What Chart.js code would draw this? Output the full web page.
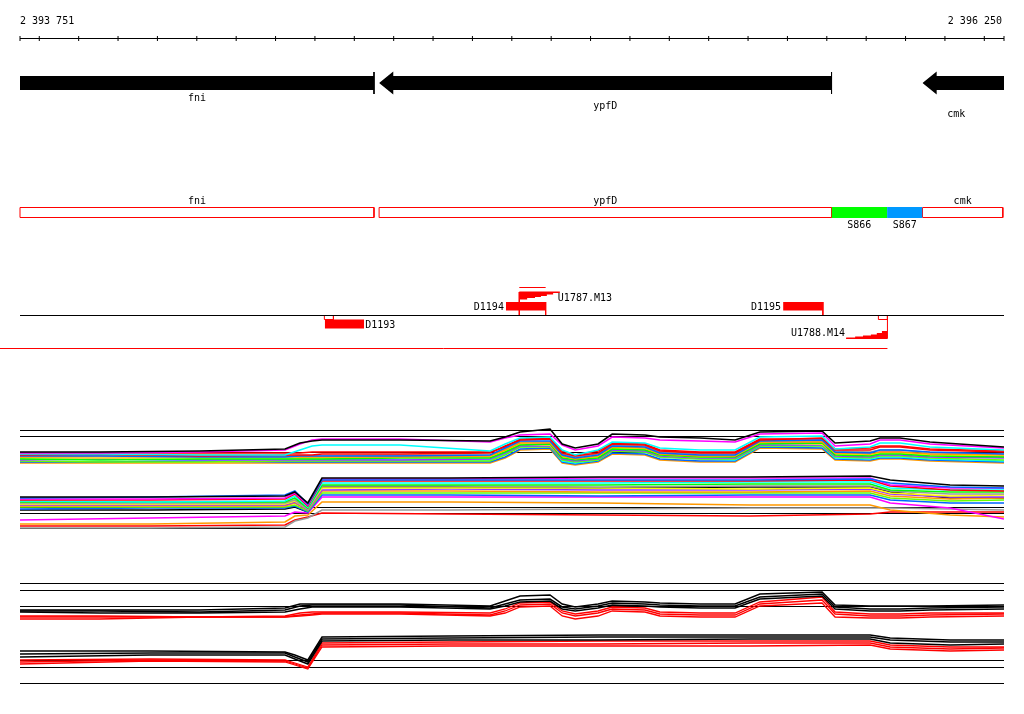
<!DOCTYPE html>
<html><head><meta charset="utf-8">
<script src="https://cdn.jsdelivr.net/npm/chart.js@4/dist/chart.umd.min.js"></script>
<style>html,body{margin:0;padding:0;background:#fff;overflow:hidden}canvas{display:block}</style>
</head><body>
<canvas id="c" width="1024" height="714"></canvas>
<script>
// ---------- DATA ----------
const VIEW_START = 2393751, VIEW_END = 2396250;
const rulerLabels = ['2 393 751', '2 396 250'];
const rulerTicks = [2393751,2393800,2393900,2394000,2394100,2394200,2394300,2394400,2394500,2394600,2394700,2394800,2394900,2395000,2395100,2395200,2395300,2395400,2395500,2395600,2395700,2395800,2395900,2396000,2396100,2396200,2396250];

const geneNames  = ['fni', 'ypfD', 'cmk'];
const geneStarts = [2393400, 2394663, 2396043];
const geneEnds   = [2394650, 2395812, 2396500];

const segNames  = ['fni', 'ypfD', 'S866', 'S867', 'cmk'];
const segStarts = [2393751, 2394663, 2395812, 2395953, 2396043];
const segEnds   = [2394650, 2395812, 2395953, 2396043, 2396247];
const segKinds  = ['gene', 'gene', 'site', 'site', 'gene'];

const featNames  = ['D1193', 'D1194', 'D1195'];
const featStarts = [2394525, 2394985, 2395689];
const featEnds   = [2394625, 2395086, 2395790];
const featSide   = ['below', 'above', 'above'];

const markStarts = [2394524, 2395931];
const markEnds   = [2394547, 2395954];

const probeNames     = ['U1787.M13', 'U1788.M14'];
const probeStepX     = [[2395019,2395039,2395059,2395074,2395089,2395105,2395122],
                        [2395849,2395872,2395892,2395912,2395927,2395940,2395954]];
const probeStepH     = [[7.5,6,5,4,2.5,1], [1,2,3,4,5.5,7.5]];
const probeSpanStart = [2395019, 2393700];
const probeSpanEnd   = [2395086, 2395954];

// expression probe positions
const gridA = [2393751,2393954,2394208,2394424,2394462,2394493,2394518,2394716,2394945,2394983,2395021,2395097,2395128,2395161,2395219,2395255,2395338,2395376,2395478,2395567,2395630,2395788,2395821,2395910,2395935,2395986,2396062,2396250];
const gridB = [2393751,2394081,2394424,2394449,2394482,2394518,2394843,2395224,2395605,2395910,2395961,2396113,2396250];

// panel 1, upper group (values on track-row scale)
const clusterA = [
[452,452,451,449,443,441,440,440,441,437,432,429,444,448,444,434,435,437,438,440,432,431,443,441,438,438,442,447],
[453,453,452,450,444,440,439,439,442,438,435,434,445,450,446,437,438,440,441,442,434,433,446,444,440,440,444,448],
[454,454,455,455,450,446,445,445,451,444,438,437,450,455,450,442,443,448,450,450,437,436,449,447,443,443,447,450],
[455,454,456,455,455,455,454,454,453,446,440,439,453,456,453,444,445,451,453,453,440,438,450,450,447,447,450,452],
[456,456,457,457,456,456,456,456,455,448,441,441,455,458,455,446,447,453,455,455,441,440,452,453,450,450,452,454],
[457,456,455,456,457,457,457,457,456,450,443,443,456,459,456,447,448,454,456,456,442,442,453,454,452,452,454,455],
[459,460,459,459,459,459,459,458,458,452,445,444,458,460,458,449,450,455,457,457,444,443,455,456,454,454,456,457],
[458,458,458,458,458,458,458,457,457,451,444,445,457,459,457,448,449,455,457,456,443,444,454,455,453,453,455,456],
[460,459,460,460,460,460,460,460,459,453,446,446,459,461,459,450,451,456,458,458,445,445,456,457,455,455,457,458],
[455,455,455,456,456,456,456,455,455,449,442,442,454,457,454,445,446,452,454,454,441,441,451,452,450,450,453,454],
[461,462,462,461,461,461,461,461,461,455,447,447,460,462,460,451,452,457,459,459,446,446,457,458,456,456,458,460],
[457,458,457,457,457,457,457,456,457,451,445,444,457,460,457,448,449,454,456,457,443,443,454,455,452,452,455,457],
[459,459,460,459,458,459,459,460,460,454,447,446,461,463,460,451,452,457,459,460,446,446,458,459,457,457,459,461],
[462,462,461,462,462,462,462,462,462,457,449,448,462,464,461,453,454,459,461,461,447,448,459,460,458,458,460,462],
[453,453,453,453,453,452,452,452,452,447,439,438,451,455,451,443,444,450,452,452,439,439,449,448,446,446,449,451],
[463,463,463,463,463,463,463,463,463,458,450,449,463,465,462,454,455,460,462,462,448,449,460,461,459,459,461,463]
];
// panel 1, lower group
const clusterB = [
[497,497,496,492,503,478,478,477,477,476,480,485,486],
[498,497,495,491,504,480,480,480,480,479,483,487,488],
[499,499,498,493,505,479,479,478,478,478,485,488,488],
[500,500,499,494,506,481,481,481,481,480,486,490,491],
[501,502,501,496,507,483,483,483,482,482,488,490,490],
[502,502,502,498,508,485,485,485,484,484,490,492,492],
[503,503,503,500,509,486,486,487,486,486,491,494,494],
[504,504,504,501,509,488,488,488,489,488,493,496,495],
[505,505,505,502,510,490,489,490,490,489,494,497,497],
[506,506,506,503,510,491,491,492,492,491,496,499,498],
[507,507,507,505,511,493,493,493,493,493,498,501,500],
[509,508,508,506,512,495,495,496,495,495,500,503,503],
[520,518,516,512,513,497,497,497,497,497,503,508,519],
[524,524,522,516,515,502,502,503,505,505,510,515,517],
[528,528,527,521,518,510,510,509,508,508,508,509,510],
[526,526,525,520,517,513,514,515,516,514,512,512,512],
[510,510,509,507,512,487,487,488,487,487,492,498,498]
];
// panel 2 summaries
const summaryUpperBlack = [
[610,610,610,608,604,604,604,604,606,601,596,595,604,607,604,601,602,603,604,604,594,592,605,606,606,606,606,605],
[611,611,612,610,606,605,605,605,608,604,600,599,607,609,606,603,604,605,606,606,597,594,607,609,609,609,608,607],
[612,613,613,612,609,607,607,607,609,606,602,601,609,611,608,605,606,607,608,608,599,596,609,611,611,611,610,609]
];
const summaryUpperRed = [
[616,616,617,616,613,612,612,612,613,609,603,602,611,614,611,607,608,612,613,613,602,597,612,614,614,614,613,613],
[617,617,617,617,615,614,613,613,615,611,605,604,613,616,613,609,610,614,615,615,604,600,614,616,616,616,615,614],
[619,619,617,617,616,615,614,614,616,613,607,606,616,619,616,611,612,616,617,617,606,603,617,618,618,618,617,616]
];
const summaryLowerBlack = [
[651,651,652,655,660,637,636,635,635,635,638,640,640],
[654,653,653,657,662,639,638,637,637,637,640,642,642],
[657,655,655,659,664,641,640,640,639,639,643,645,644]
];
const summaryLowerRed = [
[660,659,660,663,667,643,642,641,641,641,645,647,647],
[662,660,661,664,668,645,644,644,643,643,647,649,648],
[664,661,662,665,669,647,646,646,646,645,649,651,650]
];

// ---------- LAYOUT & STYLE ----------
const L = {
  rulerLabelY: 24, rulerY: 38.5, tickR: 2.5,
  geneMid: 83, bodyHalf: 7, headHalf: 11.5, headLen: 36, geneTick: [72, 94],
  geneLabelY: [101, 109, 117],
  segTop: 207.5, segBot: 217.5, segLabelY: 204, siteLabelY: 228,
  trackY: 315.5,
  aboveTop: 302, aboveBot: 310.5, belowTop: 319.5, belowBot: 328.5,
  markTop: 315.5, markBot: 319.5,
  rampBase: [292, 338.5], rampDir: [1, -1], spanY: [287.5, 348.5],
  featLabelAbove: 310, featLabelBelow: 327.5, probeLabelY: [300.5, 336],
  refLines: [430.5,436.5,452.5,507.5,513.5,528.5,583.5,590.5,606.5,660.5,667.5,683.5]
};
const RED = '#ff0000';
const siteColors = {S866: '#00ff00', S867: '#0099ff'};
const colorsA = ['#000000','#ff00ff','#00ffff','#ff0000','#0066ff','#ff9900','#00ff00','#ffff00','#9933ff','#999999','#66ff00','#ff00ff','#00ffff','#0066ff','#ff0000','#ff9900'];
const colorsB = ['#000000','#0066ff','#ff00ff','#ff0000','#00ffff','#00ff00','#999999','#ffff00','#9933ff','#ff9900','#66ff00','#0066ff','#ff00ff','#ff9900','#999999','#ff0000','#000000'];
const FONT = '10px "DejaVu Sans Mono", "Liberation Mono", monospace';

// ---------- BUILD ----------
const DS = [];
const texts = [];
const P = (x, y) => ({x, y});
function line(points, style) {
  DS.push(Object.assign({data: points, borderColor: '#000', borderWidth: 1, pointRadius: 0,
    fill: false, tension: 0, order: 0}, style));
}
function rect(x1, x2, top, bot, color, order) {
  line([P(x1, top), P(x2, top)], {borderColor: 'rgba(0,0,0,0)', borderWidth: 0, backgroundColor: color, fill: {value: bot}, order: order || 0});
}
function box(x1, x2, top, bot, color) {
  line([P(x1, top), P(x2, top), P(x2, bot), P(x1, bot), P(x1, top)], {borderColor: color, clip: false});
}

// ruler
line([P(VIEW_START, L.rulerY), P(VIEW_END, L.rulerY)], {clip: false});
DS.push({data: rulerTicks.map(t => P(t, L.rulerY)), showLine: false, pointStyle: 'line', pointRotation: 90,
  pointRadius: L.tickR, pointBorderColor: '#000', pointBorderWidth: 1, borderColor: '#000', clip: false, order: 0});
texts.push({text: rulerLabels[0], x: VIEW_START, y: L.rulerLabelY, align: 'left', dx: 0});
texts.push({text: rulerLabels[1], x: VIEW_END, y: L.rulerLabelY, align: 'right', dx: -2});

// genes (minus strand arrows)
geneNames.forEach((g, i) => {
  const s = geneStarts[i], e = geneEnds[i], m = L.geneMid, h = L.headLen;
  const st = {borderColor: 'rgba(0,0,0,0)', borderWidth: 0, backgroundColor: '#000', fill: {value: m}};
  line([P(s, m), P(s + h, m - L.headHalf), P(s + h, m - L.bodyHalf), P(e, m - L.bodyHalf)], st);
  line([P(s, m), P(s + h, m + L.headHalf), P(s + h, m + L.bodyHalf), P(e, m + L.bodyHalf)], st);
  line([P(e, L.geneTick[0]), P(e, L.geneTick[1])], {});
  const vs = Math.max(s, VIEW_START), ve = Math.min(e, VIEW_END);
  texts.push({text: g, x: (vs + ve) / 2 - (e > VIEW_END ? 18 : 0), y: L.geneLabelY[i], align: 'center', dx: 0});
});

// segment track
segNames.forEach((n, i) => {
  const s = segStarts[i], e = segEnds[i];
  if (segKinds[i] === 'gene') {
    box(s, e, L.segTop, L.segBot, RED);
    texts.push({text: n, x: (s + e) / 2, y: L.segLabelY, align: 'center', dx: 0});
  } else {
    rect(s, e, L.segTop - 0.5, L.segBot + 0.5, siteColors[n], -1);
    texts.push({text: n, x: (s + e) / 2, y: L.siteLabelY, align: 'center', dx: 0});
  }
});

// feature track
line([P(VIEW_START, L.trackY), P(VIEW_END, L.trackY)], {});
featNames.forEach((n, i) => {
  const s = featStarts[i], e = featEnds[i];
  if (featSide[i] === 'above') {
    rect(s, e, L.aboveTop, L.aboveBot, RED);
    line([P(e, L.aboveTop), P(e, L.trackY)], {borderColor: RED});
    texts.push({text: n, x: s, y: L.featLabelAbove, align: 'right', dx: -2});
  } else {
    rect(s, e, L.belowTop, L.belowBot, RED);
    texts.push({text: n, x: e, y: L.featLabelBelow, align: 'left', dx: 1});
  }
});
markStarts.forEach((s, i) => box(s, markEnds[i], L.markTop, L.markBot, RED));
probeNames.forEach((n, i) => {
  const xs = probeStepX[i], hs = probeStepH[i], base = L.rampBase[i], dir = L.rampDir[i];
  const pts = [];
  hs.forEach((h, k) => { pts.push(P(xs[k], base + dir * h)); pts.push(P(xs[k + 1], base + dir * h)); });
  line(pts, {borderColor: 'rgba(0,0,0,0)', borderWidth: 0, backgroundColor: RED, fill: {value: base}});
  line([P(xs[0], base), P(xs[xs.length - 1], base)], {borderColor: RED});
  const lx = dir > 0 ? xs[0] : xs[xs.length - 1];
  line([P(lx, base), P(lx, L.trackY)], {borderColor: RED});
  line([P(probeSpanStart[i], L.spanY[i]), P(probeSpanEnd[i], L.spanY[i])], {borderColor: RED, clip: false});
  if (dir > 0) texts.push({text: n, x: xs[xs.length - 1], y: L.probeLabelY[i], align: 'left', dx: -2});
  else texts.push({text: n, x: xs[0], y: L.probeLabelY[i], align: 'right', dx: -1});
});

// expression panels
const toPts = (grid, vals) => vals.map((v, k) => P(grid[k], v));
summaryUpperBlack.forEach(s => line(toPts(gridA, s), {borderColor: '#000', borderWidth: 1.5, order: 5}));
summaryLowerBlack.forEach(s => line(toPts(gridB, s), {borderColor: '#000', borderWidth: 1.5, order: 5}));
summaryUpperRed.forEach(s => line(toPts(gridA, s), {borderColor: RED, borderWidth: 1.3, order: 6}));
summaryLowerRed.forEach(s => line(toPts(gridB, s), {borderColor: RED, borderWidth: 1.3, order: 6}));
clusterA.forEach((s, i) => line(toPts(gridA, s), {borderColor: colorsA[i], borderWidth: 1.6, order: 10}));
clusterB.forEach((s, i) => line(toPts(gridB, s), {borderColor: colorsB[i], borderWidth: 1.6, order: 10}));
L.refLines.forEach(y => line([P(VIEW_START, y), P(VIEW_END, y)], {order: 20}));

// ---------- CHART ----------
const textPlugin = {
  id: 'trackTexts',
  afterDraw(chart) {
    const {ctx, scales: {x, y}} = chart;
    ctx.save();
    ctx.font = FONT;
    ctx.fillStyle = '#000';
    ctx.textBaseline = 'alphabetic';
    texts.forEach(t => {
      ctx.textAlign = t.align;
      ctx.fillText(t.text, x.getPixelForValue(t.x) + t.dx, y.getPixelForValue(t.y));
    });
    ctx.restore();
  }
};

new Chart(document.getElementById('c'), {
  type: 'line',
  data: {datasets: DS},
  options: {
    responsive: false, animation: false, devicePixelRatio: 1, events: [],
    layout: {autoPadding: false, padding: {left: 20, right: 20, top: 0, bottom: 0}},
    scales: {
      x: {type: 'linear', min: VIEW_START, max: VIEW_END, display: false},
      y: {type: 'linear', min: 0, max: 714, reverse: true, display: false}
    },
    plugins: {legend: {display: false}, tooltip: {enabled: false}}
  },
  plugins: [textPlugin]
});
</script>
</body></html>
